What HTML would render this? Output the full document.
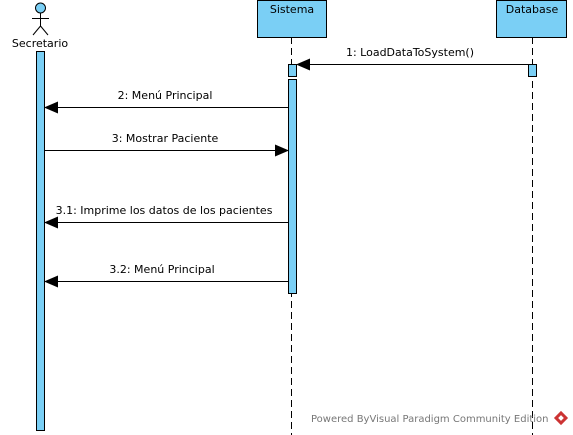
<!DOCTYPE html>
<html><head><meta charset="utf-8"><style>
html,body{margin:0;padding:0;background:#fff;width:573px;height:435px;overflow:hidden}
svg text{font-family:"DejaVu Sans","Liberation Sans",sans-serif;font-size:11px;fill:#000}
</style></head><body>
<svg width="573" height="435" xmlns="http://www.w3.org/2000/svg">
<defs><marker id="a" markerWidth="14" markerHeight="12" refX="13" refY="6" orient="auto" markerUnits="userSpaceOnUse"><path d="M0,0 L14,6 L0,12 Z" fill="#000"/></marker></defs>
<line x1="291.5" y1="37" x2="291.5" y2="435" stroke="#000" stroke-dasharray="7,4"/>
<line x1="532.5" y1="37" x2="532.5" y2="435" stroke="#000" stroke-dasharray="7,4"/>
<rect x="257.5" y="0.5" width="69" height="37" fill="#7acff5" stroke="#000"/>
<text x="292" y="13" text-anchor="middle">Sistema</text>
<rect x="496.5" y="0.5" width="70" height="37" fill="#7acff5" stroke="#000"/>
<text x="532" y="13" text-anchor="middle">Database</text>
<circle cx="40.5" cy="8" r="5" fill="#7acff5" stroke="#000"/>
<line x1="40.5" y1="13" x2="40.5" y2="26" stroke="#000"/>
<line x1="32" y1="18.5" x2="49" y2="18.5" stroke="#000"/>
<line x1="40.5" y1="26" x2="33" y2="35" stroke="#000"/>
<line x1="40.5" y1="26" x2="48" y2="35" stroke="#000"/>
<text x="40" y="47" text-anchor="middle">Secretario</text>
<rect x="36.5" y="51.5" width="8" height="379" fill="#7acff5" stroke="#000"/>
<rect x="288.5" y="64.5" width="8" height="12" fill="#7acff5" stroke="#000"/>
<rect x="528.5" y="64.5" width="8" height="12" fill="#7acff5" stroke="#000"/>
<rect x="288.5" y="79.5" width="8" height="214" fill="#7acff5" stroke="#000"/>
<line x1="528" y1="64.5" x2="297" y2="64.5" stroke="#000" marker-end="url(#a)"/>
<text x="410" y="56" text-anchor="middle">1: LoadDataToSystem()</text>
<line x1="288" y1="107.5" x2="45" y2="107.5" stroke="#000" marker-end="url(#a)"/>
<text x="165" y="99" text-anchor="middle">2: Menú Principal</text>
<line x1="45" y1="150.5" x2="288" y2="150.5" stroke="#000" marker-end="url(#a)"/>
<text x="165" y="142" text-anchor="middle">3: Mostrar Paciente</text>
<line x1="288" y1="222.5" x2="45" y2="222.5" stroke="#000" marker-end="url(#a)"/>
<text x="164" y="214" text-anchor="middle">3.1: Imprime los datos de los pacientes</text>
<line x1="288" y1="281.5" x2="45" y2="281.5" stroke="#000" marker-end="url(#a)"/>
<text x="162" y="273" text-anchor="middle">3.2: Menú Principal</text>
<text x="311" y="422" style="font-size:10px;fill:#777">Powered ByVisual Paradigm Community Edition</text>
<g transform="translate(561,418) rotate(45)"><rect x="-5" y="-5" width="10" height="10" fill="#c33"/><rect x="-2" y="-2" width="4" height="4" fill="#fff"/></g>
</svg>
</body></html>
